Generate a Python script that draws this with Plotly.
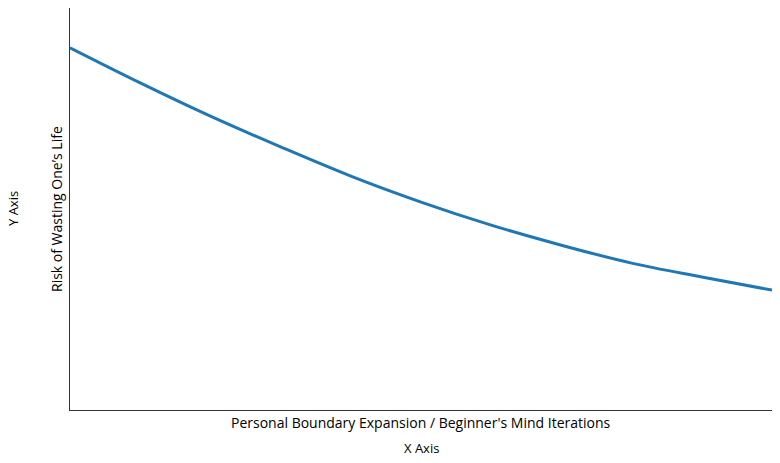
import plotly.graph_objects as go

iterations = [0, 1, 2, 3, 4, 5, 6, 7, 8, 9, 10]
risk = [0.991, 0.895, 0.804, 0.720, 0.640, 0.569, 0.506, 0.451, 0.402, 0.364, 0.328]

x_title = "Personal Boundary Expansion / Beginner's Mind Iterations"
y_title = "Risk of Wasting One\u2019s Life"
outer_x = "X Axis"
outer_y = "Y Axis"

FONT = "Open Sans"

fig = go.Figure()
fig.add_trace(go.Scatter(
    x=iterations, y=risk, mode="lines",
    line=dict(color="#1f77b4", width=3, shape="spline"),
    showlegend=False, hoverinfo="skip",
))

fig.update_layout(
    width=780, height=463,
    margin=dict(l=70, r=8, t=8, b=53),
    paper_bgcolor="white", plot_bgcolor="white",
    font=dict(family=FONT, size=14, color="black"),
    xaxis=dict(range=[0, 10], showgrid=False, zeroline=False,
               showline=True, linecolor="#333333", linewidth=1,
               showticklabels=False, ticks=""),
    yaxis=dict(range=[0, 1.1], showgrid=False, zeroline=False,
               showline=True, linecolor="#333333", linewidth=1,
               showticklabels=False, ticks=""),
    annotations=[
        dict(text=x_title, xref="paper", yref="paper", x=0.5, y=0,
             yshift=-12, yanchor="middle", xanchor="center", showarrow=False,
             font=dict(family=FONT, size=14)),
        dict(text=outer_x, xref="paper", yref="paper", x=0.5, y=0,
             yshift=-38, yanchor="middle", xanchor="center", showarrow=False,
             font=dict(family=FONT, size=13)),
        dict(text=y_title, xref="paper", yref="paper", x=0, y=0.5,
             xshift=-14, yanchor="middle", xanchor="center", showarrow=False,
             textangle=-90, font=dict(family=FONT, size=14)),
        dict(text=outer_y, xref="paper", yref="paper", x=0, y=0.5,
             xshift=-57, yanchor="middle", xanchor="center", showarrow=False,
             textangle=-90, font=dict(family=FONT, size=13)),
    ],
)

fig.write_html("out.html", config={"displayModeBar": False},
               post_script="document.body.style.margin='0';")
